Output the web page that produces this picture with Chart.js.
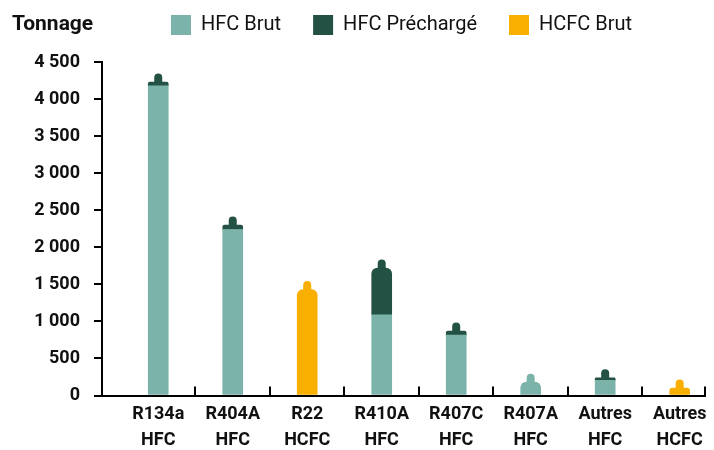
<!DOCTYPE html>
<html>
<head>
<meta charset="utf-8">
<script src="https://cdn.jsdelivr.net/npm/chart.js@4.4.1/dist/chart.umd.min.js"></script>
<style>
  html, body { margin: 0; padding: 0; background: #fff; }
  canvas { display: block; }
</style>
</head>
<body>
<canvas id="chart" width="714" height="450"></canvas>
<script>
// Refrigerant tonnage per fluid, split into raw and pre-charged HFC and raw HCFC
const categories = [
  ['R134a', 'HFC'], ['R404A', 'HFC'], ['R22', 'HCFC'], ['R410A', 'HFC'],
  ['R407C', 'HFC'], ['R407A', 'HFC'], ['Autres', 'HFC'], ['Autres', 'HCFC']
];
const seriesNames = ['HFC Brut', 'HFC Préchargé', 'HCFC Brut'];
const hfcBrut      = [4180, 2240, null, 1090, 815, 180, 205, null];
const hfcPrecharge = [50,   60,   null, 630,  55,  null, 35, null];
const hcfcBrut     = [null, null, 1430, null, null, null, null, 100];
const yTicks = [0, 500, 1000, 1500, 2000, 2500, 3000, 3500, 4000, 4500];
const axisTitle = 'Tonnage';

const colors = ['#7BB3AA', '#235244', '#F9AF00'];
const FONT = "Roboto, 'Liberation Sans', sans-serif";
const INK = '#111';
const NECK_W = 8;
const NECK_H = 8.5;
const SHOULDER_R = 6;
const X_TICK_LEN = 9;

const series = [hfcBrut, hfcPrecharge, hcfcBrut];

// index of the highest non-empty segment of a stack
function topSeries(i) {
  for (let s = series.length - 1; s >= 0; s--) {
    if (series[s][i] > 0) return s;
  }
  return -1;
}

function frNumber(v) {
  return String(v).replace(/\B(?=(\d{3})+(?!\d))/g, ' ');
}

const isBoundary = v => !Number.isInteger(v);
const toPoints = arr => arr.map((v, i) => ({ x: i, y: v }));

// cylinder valve on top of each stack
const cylinderNeck = {
  id: 'cylinderNeck',
  afterDatasetsDraw(chart) {
    const ctx = chart.ctx;
    categories.forEach((c, i) => {
      const s = topSeries(i);
      if (s < 0) return;
      const bar = chart.getDatasetMeta(s).data[i];
      if (!bar) return;
      const { x, y } = bar.getProps(['x', 'y'], true);
      ctx.save();
      ctx.fillStyle = colors[s];
      ctx.beginPath();
      ctx.roundRect(x - NECK_W / 2, y - NECK_H, NECK_W, NECK_H + 2, [NECK_W / 2, NECK_W / 2, 0, 0]);
      ctx.fill();
      ctx.restore();
    });
  }
};

// separators between categories, pointing up from the x axis
const categoryTicks = {
  id: 'categoryTicks',
  afterDraw(chart) {
    const sx = chart.scales.x;
    const ctx = chart.ctx;
    const y0 = sx.top;
    ctx.save();
    ctx.strokeStyle = '#000';
    ctx.lineWidth = 2;
    sx.ticks.filter(t => isBoundary(t.value)).forEach(t => {
      const px = Math.round(sx.getPixelForValue(t.value));
      ctx.beginPath();
      ctx.moveTo(px, y0 + 1);
      ctx.lineTo(px, y0 - X_TICK_LEN);
      ctx.stroke();
    });
    ctx.restore();
  }
};

// legend row sits on the same line as the axis title
const legendRow = {
  id: 'legendRow',
  afterLayout(chart) {
    const lg = chart.legend;
    if (!lg) return;
    const pad = lg.options.labels.padding;
    const dx = 171 - (lg.left + pad);
    const dy = 15 - (lg.top + pad);
    lg.left += dx; lg.right += dx;
    lg.top += dy; lg.bottom += dy;
  }
};

const axisTitleLabel = {
  id: 'axisTitleLabel',
  afterDraw(chart) {
    const ctx = chart.ctx;
    ctx.save();
    ctx.font = 'bold 21px ' + FONT;
    ctx.fillStyle = INK;
    ctx.textAlign = 'left';
    ctx.textBaseline = 'middle';
    ctx.fillText(axisTitle, 12, 25);
    ctx.restore();
  }
};

new Chart(document.getElementById('chart'), {
  type: 'bar',
  data: {
    datasets: series.map((arr, s) => ({
      label: seriesNames[s],
      data: toPoints(arr),
      backgroundColor: colors[s],
      borderWidth: 0,
      barThickness: 20,
      borderSkipped: 'start',
      borderRadius: ctx => (ctx.type === 'data' && topSeries(ctx.dataIndex) === ctx.datasetIndex)
        ? { topLeft: SHOULDER_R, topRight: SHOULDER_R, bottomLeft: 0, bottomRight: 0 }
        : 0
    }))
  },
  options: {
    responsive: false,
    animation: false,
    layout: { padding: { left: 12, right: 9, top: 0, bottom: 0 } },
    plugins: {
      tooltip: { enabled: false },
      legend: {
        position: 'top',
        align: 'start',
        maxHeight: 62,
        labels: {
          boxWidth: 20,
          boxHeight: 20,
          padding: 32,
          color: INK,
          font: { family: FONT, size: 20 }
        }
      }
    },
    scales: {
      x: {
        type: 'linear',
        offset: false,
        min: -0.755,
        max: 7.34,
        stacked: true,
        afterBuildTicks: scale => {
          const t = [];
          categories.forEach((c, i) => {
            t.push({ value: i });
            if (i < categories.length - 1) t.push({ value: i + 0.5 });
          });
          t.push({ value: scale.max });
          scale.ticks = t;
        },
        afterFit: scale => {
          scale.height = 54.5;
          scale.paddingLeft = 0;
          scale.paddingRight = 0;
        },
        ticks: {
          autoSkip: false,
          maxRotation: 0,
          minRotation: 0,
          padding: 15,
          color: INK,
          font: { family: FONT, size: 18, weight: 'bold', lineHeight: '26px' },
          callback: v => Number.isInteger(v) ? categories[v] : ''
        },
        grid: {
          offset: false,
          drawOnChartArea: false,
          drawTicks: true,
          tickLength: -X_TICK_LEN,
          color: 'rgba(0,0,0,0)'
        },
        border: { display: true, color: '#000', width: 2 }
      },
      y: {
        min: 0,
        max: 4500,
        stacked: true,
        afterBuildTicks: scale => { scale.ticks = yTicks.map(v => ({ value: v })); },
        afterFit: scale => { scale.width = 90; },
        ticks: {
          padding: 14,
          color: INK,
          font: { family: FONT, size: 18, weight: 'bold' },
          callback: v => frNumber(v)
        },
        grid: {
          drawOnChartArea: false,
          drawTicks: true,
          tickLength: 8,
          lineWidth: 2,
          color: '#000'
        },
        border: { display: true, color: '#000', width: 2 }
      }
    }
  },
  plugins: [cylinderNeck, categoryTicks, legendRow, axisTitleLabel]
});
</script>
</body>
</html>
